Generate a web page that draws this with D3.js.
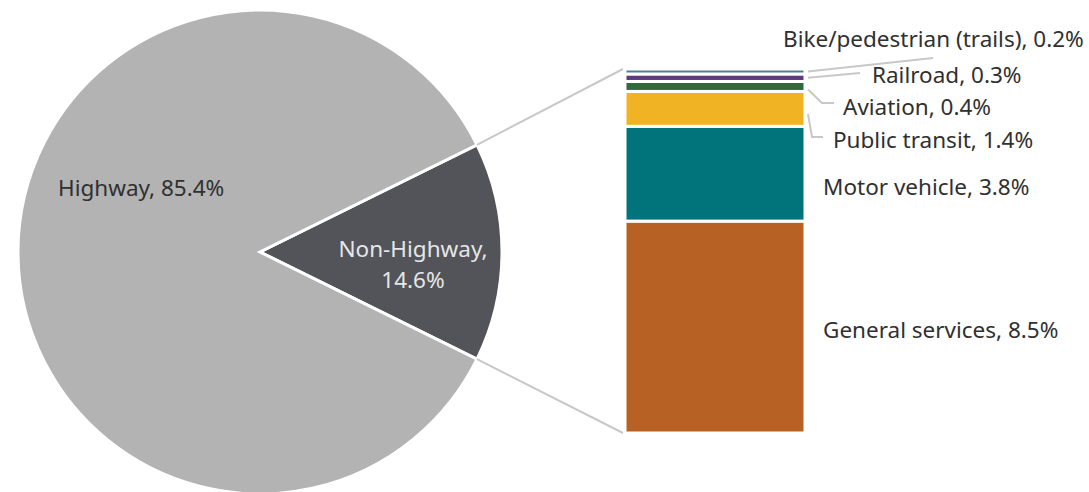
<!DOCTYPE html>
<html>
<head>
<meta charset="utf-8">
<script src="https://cdn.jsdelivr.net/npm/d3@7"></script>
<style>
  html, body { margin: 0; padding: 0; background: #fff; }
  svg { display: block; }
  text { font-family: "Noto Sans", "Open Sans", sans-serif; }
</style>
</head>
<body>
<svg id="chart" width="1089" height="492"></svg>
<script>
// ---- data ----
const pieCategories = ["Non-Highway", "Highway"];
const pieValues = [14.6, 85.4];

const barCategories = ["General services", "Motor vehicle", "Public transit", "Aviation", "Railroad", "Bike/pedestrian (trails)"];
const barValues = [8.5, 3.8, 1.4, 0.4, 0.3, 0.2];

// ---- styles / layout ----
const pieColors = ["#525459", "#b3b3b3"];
const barColors = ["#b86125", "#00747a", "#f0b323", "#2e6b3c", "#5e3b7d", "#4f7e8e"];

const svg = d3.select("#chart");
const cx = 260, cy = 252, R = 242;

// ---- pie ----
const total = d3.sum(pieValues);
const half = (pieValues[0] / total) * Math.PI;
const pie = d3.pie().sort(null)
  .startAngle(Math.PI / 2 - half)
  .endAngle(Math.PI / 2 - half + 2 * Math.PI);
const arcs = pie(pieValues);
const arc = d3.arc().innerRadius(0).outerRadius(R);

const g = svg.append("g").attr("transform", `translate(${cx},${cy})`);
g.selectAll("path").data(arcs).join("path")
  .attr("d", arc)
  .attr("fill", (d, i) => pieColors[i])
  .attr("stroke", "#fff")
  .attr("stroke-width", 3)
  .attr("stroke-linejoin", "miter");

// ---- bar ----
const barX0 = 625, barX1 = 805;
const y = d3.scaleLinear().domain([0, d3.sum(barValues)]).range([433, 69]);
const cum = d3.cumsum(barValues);
const segs = barValues.map((v, i) => ({ v, i, y0: cum[i] - v, y1: cum[i] }));

const a0 = arcs[0].startAngle, a1 = arcs[0].endAngle;
const pTop = [cx + R * Math.sin(a0), cy - R * Math.cos(a0)];
const pBot = [cx + R * Math.sin(a1), cy - R * Math.cos(a1)];
svg.append("line").attr("x1", pTop[0]).attr("y1", pTop[1])
  .attr("x2", barX0 - 2).attr("y2", y(d3.sum(barValues)))
  .attr("stroke", "#c8c8c8").attr("stroke-width", 2);
svg.append("line").attr("x1", pBot[0]).attr("y1", pBot[1])
  .attr("x2", barX0 - 2).attr("y2", y(0))
  .attr("stroke", "#c8c8c8").attr("stroke-width", 2);

svg.append("g").selectAll("rect").data(segs).join("rect")
  .attr("x", barX0)
  .attr("width", barX1 - barX0)
  .attr("y", d => y(d.y1))
  .attr("height", d => y(d.y0) - y(d.y1))
  .attr("fill", d => barColors[d.i])
  .attr("stroke", "#fff")
  .attr("stroke-width", 3);

// ---- labels ----
const textColor = "#303030";
const fs = 22.5;

svg.append("text").attr("x", 58).attr("y", 196)
  .attr("font-size", fs).attr("fill", textColor)
  .text(`${pieCategories[1]}, ${pieValues[1]}%`);

const nh = svg.append("text").attr("text-anchor", "middle")
  .attr("font-size", fs).attr("fill", "#e6e6e6");
nh.append("tspan").attr("x", 413).attr("y", 257).text(`${pieCategories[0]},`);
nh.append("tspan").attr("x", 413).attr("y", 288).text(`${pieValues[0]}%`);

const labelLayout = [
  { tx: 823, ty: 338, leader: null },
  { tx: 823, ty: 195, leader: null },
  { tx: 833, ty: 148, leader: [[812, 137], [823, 137]] },
  { tx: 843, ty: 115, leader: [[822, 103], [834, 103]] },
  { tx: 872, ty: 83, leader: [[860, 73]] },
  { tx: 783, ty: 47, leader: [[933, 58]] }
];
const startOffsets = [0, 0, 5, 3, 0, 0];

segs.forEach((d, i) => {
  const L = labelLayout[i];
  if (L.leader) {
    const mid = (y(d.y0) + y(d.y1)) / 2 + startOffsets[i];
    const pts = [[barX1 + 3, mid], ...L.leader];
    svg.append("path")
      .attr("d", d3.line()(pts))
      .attr("fill", "none")
      .attr("stroke", "#c8c8c8")
      .attr("stroke-width", 2);
  }
  svg.append("text").attr("x", L.tx).attr("y", L.ty)
    .attr("font-size", fs).attr("fill", textColor)
    .text(`${barCategories[i]}, ${d.v}%`);
});
</script>
</body>
</html>
